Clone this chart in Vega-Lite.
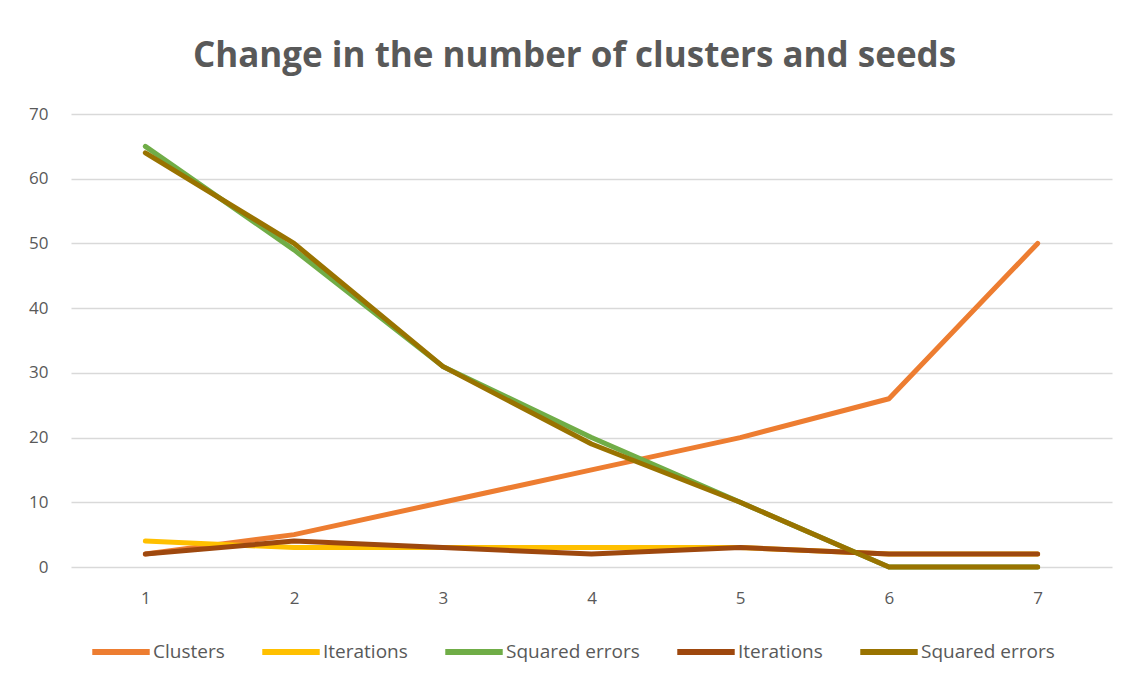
{
  "$schema": "https://vega.github.io/schema/vega-lite/v6.json",
  "width": 1041,
  "height": 453,
  "autosize": {"type": "none"},
  "padding": {"left": 71, "top": 114, "right": 24, "bottom": 117},
  "background": "white",
  "config": {"view": {"stroke": null}},
  "title": {
    "text": "Change in the number of clusters and seeds",
    "font": "Open Sans",
    "fontSize": 35,
    "fontWeight": "bold",
    "color": "#595959",
    "anchor": "middle",
    "baseline": "alphabetic",
    "offset": 3,
    "dx": -17
  },
  "data": {
    "values": [
      {"x": 1, "series": "Clusters", "value": 2},
      {"x": 2, "series": "Clusters", "value": 5},
      {"x": 3, "series": "Clusters", "value": 10},
      {"x": 4, "series": "Clusters", "value": 15},
      {"x": 5, "series": "Clusters", "value": 20},
      {"x": 6, "series": "Clusters", "value": 26},
      {"x": 7, "series": "Clusters", "value": 50},
      {"x": 1, "series": "Iterations", "value": 4},
      {"x": 2, "series": "Iterations", "value": 3},
      {"x": 3, "series": "Iterations", "value": 3},
      {"x": 4, "series": "Iterations", "value": 3},
      {"x": 5, "series": "Iterations", "value": 3},
      {"x": 6, "series": "Iterations", "value": 2},
      {"x": 7, "series": "Iterations", "value": 2},
      {"x": 1, "series": "Squared errors", "value": 65},
      {"x": 2, "series": "Squared errors", "value": 49},
      {"x": 3, "series": "Squared errors", "value": 31},
      {"x": 4, "series": "Squared errors", "value": 20},
      {"x": 5, "series": "Squared errors", "value": 10},
      {"x": 6, "series": "Squared errors", "value": 0},
      {"x": 7, "series": "Squared errors", "value": 0},
      {"x": 1, "series": "Iterations (2)", "value": 2},
      {"x": 2, "series": "Iterations (2)", "value": 4},
      {"x": 3, "series": "Iterations (2)", "value": 3},
      {"x": 4, "series": "Iterations (2)", "value": 2},
      {"x": 5, "series": "Iterations (2)", "value": 3},
      {"x": 6, "series": "Iterations (2)", "value": 2},
      {"x": 7, "series": "Iterations (2)", "value": 2},
      {"x": 1, "series": "Squared errors (2)", "value": 64},
      {"x": 2, "series": "Squared errors (2)", "value": 50},
      {"x": 3, "series": "Squared errors (2)", "value": 31},
      {"x": 4, "series": "Squared errors (2)", "value": 19},
      {"x": 5, "series": "Squared errors (2)", "value": 10},
      {"x": 6, "series": "Squared errors (2)", "value": 0},
      {"x": 7, "series": "Squared errors (2)", "value": 0}
    ]
  },
  "mark": {"type": "line", "strokeWidth": 5, "strokeCap": "round", "strokeJoin": "round"},
  "encoding": {
    "x": {
      "field": "x",
      "type": "ordinal",
      "scale": {"type": "point", "padding": 0.5},
      "axis": {
        "title": null,
        "labelAngle": 0,
        "domain": false,
        "ticks": false,
        "grid": false,
        "labelPadding": 23,
        "labelFont": "Open Sans",
        "labelFontSize": 17,
        "labelColor": "#595959"
      }
    },
    "y": {
      "field": "value",
      "type": "quantitative",
      "scale": {"domain": [0, 70], "nice": false},
      "axis": {
        "title": null,
        "values": [0, 10, 20, 30, 40, 50, 60, 70],
        "domain": false,
        "ticks": false,
        "labelPadding": 23,
        "labelFont": "Open Sans",
        "labelFontSize": 17,
        "labelColor": "#595959",
        "gridColor": "#d9d9d9",
        "gridWidth": 1.3
      }
    },
    "color": {
      "field": "series",
      "type": "nominal",
      "sort": null,
      "scale": {
        "domain": ["Clusters", "Iterations", "Squared errors", "Iterations (2)", "Squared errors (2)"],
        "range": ["#ED7D31", "#FFC000", "#70AD47", "#9E480E", "#997300"]
      },
      "legend": {
        "title": null,
        "orient": "none",
        "direction": "horizontal",
        "legendX": 18,
        "legendY": 506,
        "symbolType": "stroke",
        "symbolSize": 3300,
        "symbolStrokeWidth": 6,
        "labelExpr": "replace(datum.label, ' (2)', '')",
        "labelFont": "Open Sans",
        "labelFontSize": 19,
        "labelColor": "#595959",
        "labelOffset": 0,
        "columnPadding": 25
      }
    }
  }
}
